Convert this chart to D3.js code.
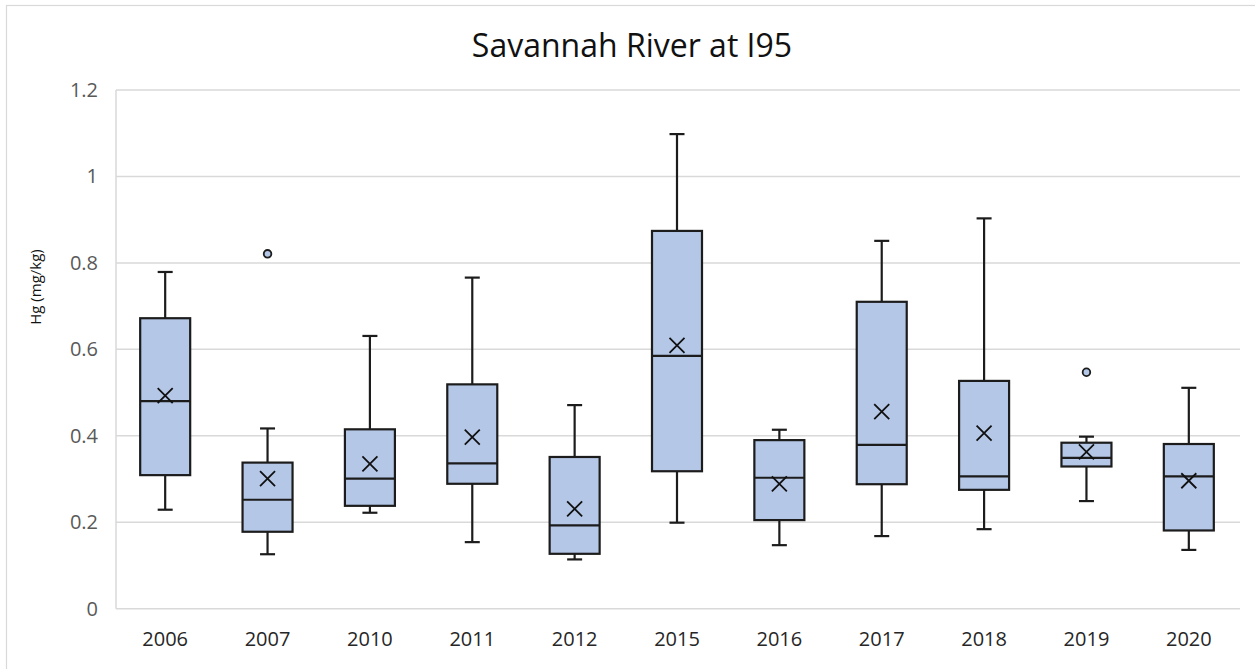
<!DOCTYPE html>
<html>
<head>
<meta charset="utf-8">
<script src="https://cdn.jsdelivr.net/npm/d3@7"></script>
<style>
  body { margin: 0; background: #fff; }
  svg { display: block; font-family: "Open Sans", sans-serif; }
</style>
</head>
<body>
<script>
(function() {
	"use strict";
	// values
	const YEARS = ["2006", "2007", "2010", "2011", "2012", "2015", "2016", "2017", "2018", "2019", "2020"],
	   WHISKER_LO = [0.229, 0.126, 0.222, 0.154, 0.114, 0.199, 0.147, 0.168, 0.184, 0.249, 0.136],
	   Q1 = [0.309, 0.178, 0.238, 0.289, 0.127, 0.318, 0.205, 0.288, 0.275, 0.329, 0.181],
	   MEDIAN = [0.480, 0.252, 0.301, 0.336, 0.193, 0.585, 0.303, 0.379, 0.306, 0.349, 0.306],
	   Q3 = [0.672, 0.338, 0.415, 0.519, 0.351, 0.874, 0.390, 0.710, 0.527, 0.384, 0.381],
	   WHISKER_HI = [0.779, 0.417, 0.631, 0.766, 0.471, 1.098, 0.414, 0.851, 0.903, 0.398, 0.511],
	   MEAN = [0.493, 0.301, 0.335, 0.397, 0.231, 0.609, 0.289, 0.456, 0.406, 0.363, 0.296],
	   OUTLIER_YEARS = ["2007", "2019"],
	   OUTLIER_VALUES = [0.821, 0.547],
	   Y_TICKS = [0, 0.2, 0.4, 0.6, 0.8, 1, 1.2];

	const W = 1255, H = 669;
	const boxes = YEARS.map((y, i) => ({
		year: y, lo: WHISKER_LO[i], q1: Q1[i], med: MEDIAN[i],
		q3: Q3[i], hi: WHISKER_HI[i], mean: MEAN[i]
	}));
	const outliers = OUTLIER_YEARS.map((y, i) => ({ year: y, value: OUTLIER_VALUES[i] }));

	const svg = d3.select("body").append("svg").attr("width", W).attr("height", H);

	// chart frame (only left & top edges show in the picture)
	svg.append("rect").attr("x", 6.5).attr("y", 5.5).attr("width", W + 10).attr("height", H + 10)
		.attr("fill", "none").attr("stroke", "#d9d9d9").attr("stroke-width", 1.2);

	const x = d3.scaleBand().domain(YEARS).range([114, 1240]);
	const y = d3.scaleLinear().domain([0, 1.2]).range([608.7, 90]);
	const boxW = 50, capW = 15, dark = "#1c1c1c";

	// gridlines
	svg.append("g").selectAll("line").data(Y_TICKS).enter().append("line")
		.attr("x1", 116).attr("x2", 1240)
		.attr("y1", d => y(d)).attr("y2", d => y(d))
		.attr("stroke", "#d9d9d9").attr("stroke-width", 1.5);
	svg.append("line").attr("x1", 116).attr("x2", 116).attr("y1", y(1.2)).attr("y2", y(0))
		.attr("stroke", "#d9d9d9").attr("stroke-width", 1.5);

	// y axis labels
	const yAxis = svg.append("g").attr("transform", "translate(98,0)")
		.call(d3.axisLeft(y).tickValues(Y_TICKS).tickFormat(d3.format("~g")).tickSize(0).tickPadding(0));
	yAxis.select(".domain").remove();
	yAxis.selectAll("text").attr("fill", "#595959").style("font-size", "20px")
		.style("font-family", "'Open Sans', sans-serif");

	// x axis labels
	const xAxis = svg.append("g").attr("transform", "translate(0,632)")
		.call(d3.axisBottom(x).tickSize(0).tickPadding(0));
	xAxis.select(".domain").remove();
	xAxis.selectAll("text").attr("fill", "#262626").style("font-size", "20px")
		.style("font-family", "'Open Sans', sans-serif").attr("dy", "0.71em");

	const cx = d => x(d.year) + x.bandwidth() / 2;
	const g = svg.append("g").selectAll("g").data(boxes).enter().append("g");

	// whiskers
	g.append("line").attr("x1", cx).attr("x2", cx).attr("y1", d => y(d.hi)).attr("y2", d => y(d.q3))
		.attr("stroke", dark).attr("stroke-width", 2.2);
	g.append("line").attr("x1", cx).attr("x2", cx).attr("y1", d => y(d.q1)).attr("y2", d => y(d.lo))
		.attr("stroke", dark).attr("stroke-width", 2.2);
	g.append("line").attr("x1", d => cx(d) - capW / 2).attr("x2", d => cx(d) + capW / 2)
		.attr("y1", d => y(d.hi)).attr("y2", d => y(d.hi)).attr("stroke", dark).attr("stroke-width", 2.2);
	g.append("line").attr("x1", d => cx(d) - capW / 2).attr("x2", d => cx(d) + capW / 2)
		.attr("y1", d => y(d.lo)).attr("y2", d => y(d.lo)).attr("stroke", dark).attr("stroke-width", 2.2);

	// boxes
	g.append("rect").attr("x", d => cx(d) - boxW / 2).attr("width", boxW)
		.attr("y", d => y(d.q3)).attr("height", d => y(d.q1) - y(d.q3))
		.attr("fill", "#b4c7e7").attr("stroke", dark).attr("stroke-width", 2.2);
	g.append("line").attr("x1", d => cx(d) - boxW / 2).attr("x2", d => cx(d) + boxW / 2)
		.attr("y1", d => y(d.med)).attr("y2", d => y(d.med)).attr("stroke", dark).attr("stroke-width", 2.2);

	// mean markers
	const m = 7.5;
	g.append("path")
		.attr("d", d => {
			const px = cx(d), py = y(d.mean);
			return `M${px - m},${py - m}L${px + m},${py + m}M${px - m},${py + m}L${px + m},${py - m}`;
		})
		.attr("stroke", "#111").attr("stroke-width", 1.8).attr("fill", "none");

	// outliers
	svg.append("g").selectAll("circle").data(outliers).enter().append("circle")
		.attr("cx", cx).attr("cy", d => y(d.value)).attr("r", 3.8)
		.attr("fill", "#b4c7e7").attr("stroke", dark).attr("stroke-width", 1.8);

	// titles
	svg.append("text").attr("x", 632).attr("y", 57).attr("text-anchor", "middle")
		.style("font-size", "32px").attr("fill", "#111").text("Savannah River at I95");
	svg.append("text").attr("transform", "translate(41,287) rotate(-90)").attr("text-anchor", "middle")
		.style("font-size", "15px").attr("fill", "#111").text("Hg (mg/kg)");
}());
</script>
</body>
</html>
